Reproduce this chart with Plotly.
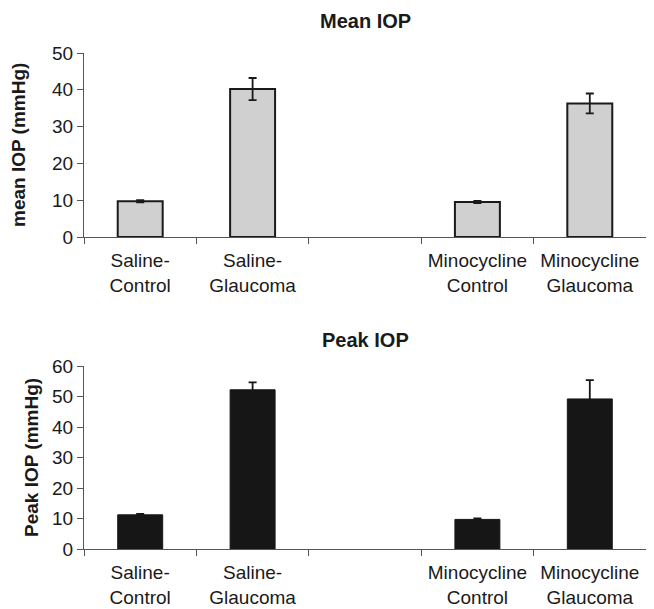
import plotly.graph_objects as go

categories = ["Saline-<br>Control", "Saline-<br>Glaucoma", " ", "Minocycline<br>Control", "Minocycline<br>Glaucoma"]
mean_iop = [9.7, 40.2, None, 9.5, 36.3]
mean_err = [0.3, 3.0, None, 0.3, 2.7]
peak_iop = [11.2, 52.2, None, 9.7, 49.2]
peak_err = [0.3, 2.4, None, 0.3, 6.2]
mean_ticks = [0, 10, 20, 30, 40, 50]
peak_ticks = [0, 10, 20, 30, 40, 50, 60]

OFF = 8  # page body margin
W, H = 654 - OFF, 609 - OFF
FONT = "Arial, Liberation Sans, Helvetica, sans-serif"

def px(x):
    return (x - OFF) / W

def py(y):
    return 1 - (y - OFF) / H

fig = go.Figure()
fig.add_trace(go.Bar(
    x=categories, y=mean_iop,
    marker=dict(color="#d0d0d0", line=dict(color="#1a1a1a", width=2)),
    error_y=dict(type="data", array=mean_err, color="#1a1a1a", thickness=1.8, width=4),
    xaxis="x", yaxis="y", showlegend=False,
))
fig.add_trace(go.Bar(
    x=categories, y=peak_iop,
    marker=dict(color="#161616", line=dict(color="#161616", width=1)),
    error_y=dict(type="data", array=peak_err, color="#161616", thickness=1.8, width=4),
    xaxis="x2", yaxis="y2", showlegend=False,
))

axis_common = dict(
    showline=True, linecolor="#555555", linewidth=1.2,
    ticks="outside", tickcolor="#555555", ticklen=6, tickwidth=1.2,
    showgrid=False, zeroline=False, automargin=False,
    tickfont=dict(family=FONT, size=19, color="#1a1a1a"),
)

fig.update_layout(
    width=W, height=H,
    margin=dict(l=0, r=0, t=0, b=0, autoexpand=False),
    plot_bgcolor="white", paper_bgcolor="white",
    bargap=0.6,
    xaxis=dict(domain=[px(84), px(646)], anchor="y", type="category",
               tickson="boundaries", ticklabelstandoff=6, **axis_common),
    yaxis=dict(domain=[py(237), py(53)], anchor="x", range=[0, 50],
               tickvals=mean_ticks, **axis_common),
    xaxis2=dict(domain=[px(84), px(646)], anchor="y2", type="category",
                tickson="boundaries", ticklabelstandoff=6, **axis_common),
    yaxis2=dict(domain=[py(549), py(366)], anchor="x2", range=[0, 60],
                tickvals=peak_ticks, **axis_common),
    annotations=[
        dict(text="<b>Mean IOP</b>", x=px(365), y=py(21), xref="paper", yref="paper",
             xanchor="center", yanchor="middle",
             showarrow=False, font=dict(family=FONT, size=20, color="#1a1a1a")),
        dict(text="<b>Peak IOP</b>", x=px(365), y=py(340), xref="paper", yref="paper",
             xanchor="center", yanchor="middle",
             showarrow=False, font=dict(family=FONT, size=20, color="#1a1a1a")),
        dict(text="<b>mean IOP (mmHg)</b>", x=px(18), y=py(145), xref="paper", yref="paper",
             xanchor="center", yanchor="middle",
             showarrow=False, textangle=-90, font=dict(family=FONT, size=19, color="#1a1a1a")),
        dict(text="<b>Peak IOP (mmHg)</b>", x=px(31), y=py(458), xref="paper", yref="paper",
             xanchor="center", yanchor="middle",
             showarrow=False, textangle=-90, font=dict(family=FONT, size=19, color="#1a1a1a")),
    ],
)

fig.write_html("out.html")
